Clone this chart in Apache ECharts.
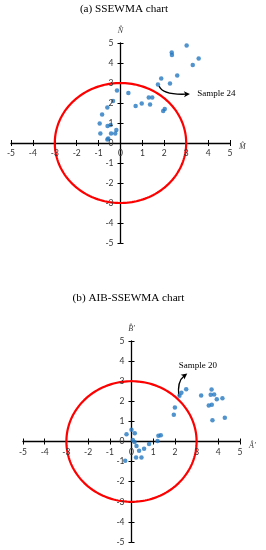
<!DOCTYPE html>
<html>
<head>
<meta charset="utf-8">
<script src="https://cdn.jsdelivr.net/npm/echarts@6/dist/echarts.min.js"></script>
<style>html,body{margin:0;padding:0;background:#fff}#c{width:266px;height:550px}</style>
</head>
<body>
<div id="c"></div>
<script>
// ---- data ----
const titleA = '(a) SSEWMA chart';
const titleB = '(b) AIB-SSEWMA chart';
const axisTicks = [-5, -4, -3, -2, -1, 0, 1, 2, 3, 4, 5];
const controlLimitRadius = 3;

const xNameA = 'M\u0302', yNameA = 'N\u0302';
const xNameB = 'A\u0302\u2032', yNameB = 'B\u0302\u2032';

const mA = [3.02, 2.34, 2.35, 3.57, 3.30, 2.59, 1.86, 2.26, 1.71, -0.16, 0.36, -0.34, -0.60, -0.84, -0.95, -0.59, -0.45, -0.19, -0.92, -0.43, -0.24, -0.56, -0.60, 0.69, 0.97, 1.35, 1.29, 1.45, 1.95, 2.02];
const nA = [4.87, 4.53, 4.40, 4.22, 3.90, 3.38, 3.23, 2.98, 2.92, 2.62, 2.50, 2.10, 1.77, 1.43, 0.98, 0.85, 0.90, 0.65, 0.48, 0.48, 0.48, 0.22, 0.17, 1.85, 1.97, 1.93, 2.28, 2.28, 1.60, 1.70];

const aB = [-0.23, 0.00, 0.15, 0.06, 0.14, 0.23, 0.35, 0.58, 0.81, 0.21, 0.46, -0.29, 1.20, 1.24, 1.35, 1.95, 2.00, 3.56, 3.70, 3.73, 4.30, 2.21, 2.30, 2.52, 3.21, 3.69, 3.65, 3.81, 3.93, 4.19];
const bB = [0.36, 0.58, 0.41, 0.08, -0.03, -0.23, -0.46, -0.36, -0.13, -0.80, -0.80, -0.96, 0.03, 0.28, 0.31, 1.33, 1.69, 1.79, 1.83, 1.06, 1.18, 2.27, 2.42, 2.60, 2.29, 2.59, 2.32, 2.34, 2.10, 2.15];

// annotations: curve start, control, end (data coords) and text anchor
const annotA = { text: 'Sample 24', path: [1.76, 2.85, 1.92, 2.40, 3.17, 2.45], textAt: [3.50, 2.45], align: 'left' };
const annotB = { text: 'Sample 20', path: [2.18, 2.24, 2.10, 3.00, 2.57, 3.38], textAt: [3.06, 3.78], align: 'center' };

// ---- chart ----
const chart = echarts.init(document.getElementById('c'), null, { renderer: 'canvas' });
const tickFontCss = '8.5px Lato, "Liberation Sans", sans-serif';
const tickColor = '#333333';
const lineStyle = { color: '#000', width: 1.3 };
const axMin = axisTicks[0], axMax = axisTicks[axisTicks.length - 1];
const nameStyle = { fontFamily: '"Liberation Serif", serif', fontStyle: 'italic', fontSize: 8, color: '#404040' };

function mainX(gi, name) {
  return {
    type: 'value', gridIndex: gi, min: axMin, max: axMax, interval: 1, position: 'bottom',
    axisLine: { show: true, onZero: true, lineStyle },
    axisTick: { show: true, length: 3, lineStyle: { color: '#000', width: 1 } },
    axisLabel: { show: false },
    splitLine: { show: false },
    name, nameLocation: 'end', nameGap: 9,
    nameTextStyle: Object.assign({ verticalAlign: 'top', padding: [0, 0, 0, 0] }, nameStyle)
  };
}
function crossX(gi) {
  return {
    type: 'value', gridIndex: gi, min: axMin, max: axMax, interval: 1, position: 'top',
    axisLine: { show: false, onZero: true },
    axisTick: { show: true, length: 3, lineStyle: { color: '#000', width: 1 } },
    axisLabel: { show: false }, splitLine: { show: false }
  };
}
function mainY(gi, name) {
  return {
    type: 'value', gridIndex: gi, min: axMin, max: axMax, interval: 1, position: 'left',
    axisLine: { show: true, onZero: true, lineStyle },
    axisTick: { show: true, length: 3, lineStyle: { color: '#000', width: 1 } },
    axisLabel: { show: false },
    splitLine: { show: false },
    name, nameLocation: 'end', nameGap: 8,
    nameTextStyle: nameStyle
  };
}
function crossY(gi) {
  return {
    type: 'value', gridIndex: gi, min: axMin, max: axMax, interval: 1, position: 'right',
    axisLine: { show: false, onZero: true },
    axisTick: { show: true, length: 3, lineStyle: { color: '#000', width: 1 } },
    axisLabel: { show: false }, splitLine: { show: false }
  };
}

function zip(xs, ys) { return xs.map((x, i) => [x, ys[i]]); }

// tick labels placed next to the zero-crossing axes, positioned by the axis scales
function tickLabelSeries(xi, yi) {
  const data = axisTicks.map(t => [t, 0, 0]).concat(axisTicks.map(t => [0, t, 1]));
  return {
    type: 'custom', xAxisIndex: xi, yAxisIndex: yi, silent: true, z: 6,
    data,
    renderItem: function (params, api) {
      const p = api.coord([api.value(0), api.value(1)]);
      const isY = api.value(2) === 1;
      const v = isY ? api.value(1) : api.value(0);
      return {
        type: 'text',
        x: isY ? p[0] - 7 : p[0],
        y: isY ? p[1] : p[1] + 6,
        style: { text: String(v), fill: tickColor, font: tickFontCss, align: isY ? 'right' : 'center', verticalAlign: isY ? 'middle' : 'top' }
      };
    }
  };
}

function circleSeries(xi, yi) {
  return {
    type: 'custom', xAxisIndex: xi, yAxisIndex: yi, silent: true, z: 3,
    data: [[0, 0, controlLimitRadius]],
    renderItem: function (params, api) {
      const c = api.coord([api.value(0), api.value(1)]);
      const s = api.size([api.value(2), api.value(2)]);
      const pts = [];
      for (let i = 0; i <= 180; i++) {
        const t = i / 180 * Math.PI * 2;
        pts.push([c[0] + s[0] * Math.cos(t), c[1] + s[1] * Math.sin(t)]);
      }
      return { type: 'polygon', shape: { points: pts }, style: { fill: 'none', stroke: '#ff0000', lineWidth: 2.2 } };
    }
  };
}

function annotSeries(xi, yi, ann) {
  return {
    type: 'custom', xAxisIndex: xi, yAxisIndex: yi, silent: true, z: 4,
    data: [ann.path.concat(ann.textAt)],
    renderItem: function (params, api) {
      const p0 = api.coord([api.value(0), api.value(1)]);
      const p1 = api.coord([api.value(2), api.value(3)]);
      const p2 = api.coord([api.value(4), api.value(5)]);
      const tp = api.coord([api.value(6), api.value(7)]);
      const dx = p2[0] - p1[0], dy = p2[1] - p1[1];
      const L = Math.sqrt(dx * dx + dy * dy) || 1;
      const ux = dx / L, uy = dy / L;
      const hl = 6, hw = 3;
      const tip = p2;
      const base = [tip[0] - ux * hl, tip[1] - uy * hl];
      const head = [tip, [base[0] - uy * hw, base[1] + ux * hw], [base[0] + ux * 1.5, base[1] + uy * 1.5], [base[0] + uy * hw, base[1] - ux * hw]];
      const endLine = [tip[0] - ux * 4, tip[1] - uy * 4];
      return {
        type: 'group',
        children: [
          { type: 'bezierCurve', shape: { x1: p0[0], y1: p0[1], cpx1: p1[0], cpy1: p1[1], x2: endLine[0], y2: endLine[1] }, style: { fill: 'none', stroke: '#000', lineWidth: 1.4 } },
          { type: 'polygon', shape: { points: head }, style: { fill: '#000' } },
          { type: 'text', x: tp[0], y: tp[1], style: { text: ann.text, fill: '#000', font: '9px "Liberation Serif", serif', align: ann.align, verticalAlign: 'middle' } }
        ]
      };
    }
  };
}

function scatterSeries(xi, yi, data) {
  return {
    type: 'scatter', xAxisIndex: xi, yAxisIndex: yi, data, symbol: 'circle', symbolSize: 4.5, z: 5,
    itemStyle: { color: '#2478c0' }, silent: true
  };
}

const option = {
  animation: false,
  backgroundColor: '#fff',
  grid: [
    { left: 11, width: 219, top: 43, height: 200 },
    { left: 23, width: 217, top: 341, height: 201 }
  ],
  xAxis: [mainX(0, xNameA), crossX(0), mainX(1, xNameB), crossX(1)],
  yAxis: [mainY(0, yNameA), crossY(0), mainY(1, yNameB), crossY(1)],
  graphic: [
    { type: 'text', x: 124, y: 9, style: { text: titleA, font: '11.2px "Liberation Serif", serif', fill: '#000', align: 'center', verticalAlign: 'middle' } },
    { type: 'text', x: 128.5, y: 298, style: { text: titleB, font: '11.2px "Liberation Serif", serif', fill: '#000', align: 'center', verticalAlign: 'middle' } }
  ],
  series: [
    circleSeries(0, 0),
    annotSeries(0, 0, annotA),
    tickLabelSeries(0, 0),
    scatterSeries(0, 0, zip(mA, nA)),
    circleSeries(2, 2),
    annotSeries(2, 2, annotB),
    tickLabelSeries(2, 2),
    scatterSeries(2, 2, zip(aB, bB))
  ]
};
chart.setOption(option);
</script>
</body>
</html>
